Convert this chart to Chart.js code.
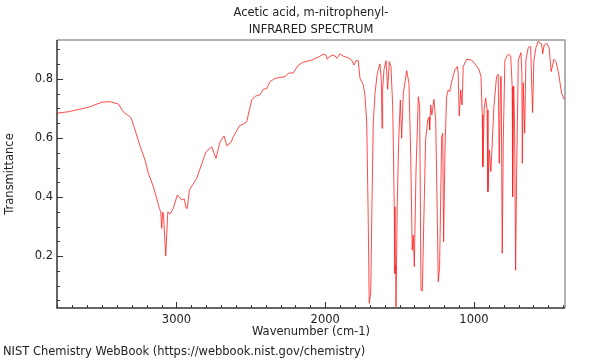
<!DOCTYPE html>
<html>
<head>
<meta charset="utf-8">
<title>Acetic acid, m-nitrophenyl- IR</title>
<script src="https://cdn.jsdelivr.net/npm/chart.js@4/dist/chart.umd.min.js"></script>
<style>
	body { margin: 0; background: #fff; }
	canvas { display: block; }
</style>
</head>
<body>
<canvas id="irSpectrum" width="600" height="360"></canvas>
<script>
	// values, high wavenumber first
	const wavenumbers = [
		3803, 3726, 3592, 3502, 3446, 3390, 3357, 3323, 3305, 3278,
		3245, 3211, 3189, 3155, 3130, 3115, 3106, 3099, 3093, 3088,
		3072, 3058, 3043, 3021, 2994, 2964, 2947, 2935, 2927, 2913,
		2864, 2801, 2763, 2734, 2707, 2680, 2662, 2633, 2618, 2577,
		2550, 2528, 2494, 2472, 2438, 2416, 2393, 2371, 2337, 2270,
		2248, 2214, 2181, 2147, 2091, 2046, 2013, 1995, 1986, 1975,
		1952, 1934, 1921, 1901, 1878, 1845, 1822, 1807, 1793, 1778,
		1766, 1744, 1733, 1721, 1712, 1704, 1694, 1686, 1677, 1665,
		1650, 1632, 1623, 1618, 1614, 1605, 1591, 1580, 1569, 1558,
		1546, 1536, 1531, 1526, 1524, 1516, 1506, 1495, 1486, 1475,
		1452, 1437, 1425, 1415, 1408, 1401, 1390, 1374, 1365, 1356,
		1347, 1338, 1325, 1311, 1302, 1298, 1291, 1283, 1269, 1257,
		1244, 1240, 1231, 1217, 1210, 1204, 1195, 1184, 1173, 1163,
		1150, 1128, 1112, 1106, 1099, 1089, 1080, 1072, 1049, 1016,
		993, 965, 953, 944, 940, 931, 921, 912, 906, 897,
		886, 866, 848, 837, 830, 821, 817, 810, 803, 792,
		770, 753, 743, 740, 733, 727, 720, 713, 702, 684,
		678, 675, 669, 659, 651, 635, 619, 606, 597, 583,
		568, 557, 545, 538, 528, 511, 494, 481, 462, 449,
		433, 411, 395, 388
	];
	const transmittance = [
		0.684, 0.689, 0.704, 0.721, 0.723, 0.715, 0.688, 0.676, 0.668, 0.627,
		0.573, 0.525, 0.480, 0.435, 0.390, 0.362, 0.350, 0.294, 0.349, 0.345,
		0.200, 0.350, 0.342, 0.362, 0.407, 0.390, 0.393, 0.362, 0.362, 0.424,
		0.463, 0.554, 0.570, 0.531, 0.587, 0.607, 0.574, 0.585, 0.604, 0.641,
		0.647, 0.655, 0.729, 0.741, 0.747, 0.765, 0.768, 0.791, 0.802, 0.808,
		0.819, 0.821, 0.847, 0.857, 0.864, 0.874, 0.884, 0.881, 0.867, 0.874,
		0.881, 0.878, 0.870, 0.885, 0.877, 0.872, 0.864, 0.847, 0.862, 0.862,
		0.802, 0.780, 0.746, 0.651, 0.367, 0.040, 0.074, 0.367, 0.650, 0.752,
		0.819, 0.851, 0.797, 0.633, 0.763, 0.831, 0.862, 0.765, 0.859, 0.842,
		0.706, 0.367, 0.141, 0.169, 0.028, 0.367, 0.593, 0.729, 0.599, 0.752,
		0.828, 0.785, 0.537, 0.220, 0.271, 0.164, 0.480, 0.740, 0.706, 0.085,
		0.082, 0.299, 0.593, 0.661, 0.670, 0.627, 0.712, 0.678, 0.731, 0.661,
		0.254, 0.113, 0.164, 0.604, 0.616, 0.248, 0.559, 0.740, 0.763, 0.757,
		0.791, 0.831, 0.842, 0.819, 0.675, 0.763, 0.712, 0.842, 0.867, 0.864,
		0.851, 0.831, 0.808, 0.678, 0.503, 0.701, 0.735, 0.695, 0.418, 0.559,
		0.486, 0.706, 0.808, 0.816, 0.514, 0.808, 0.808, 0.209, 0.593, 0.864,
		0.884, 0.878, 0.774, 0.401, 0.776, 0.650, 0.152, 0.480, 0.864, 0.889,
		0.819, 0.514, 0.787, 0.616, 0.864, 0.907, 0.910, 0.686, 0.864, 0.907,
		0.928, 0.921, 0.919, 0.885, 0.915, 0.921, 0.904, 0.825, 0.867, 0.859,
		0.825, 0.752, 0.732, 0.731
	];
	const xMajorTicks = [3000, 2000, 1000];
	const yMajorTicks = [0.2, 0.4, 0.6, 0.8];

	const titleLines = ['Acetic acid, m-nitrophenyl-', 'INFRARED SPECTRUM'];
	const footerText = 'NIST Chemistry WebBook (https://webbook.nist.gov/chemistry)';

	Chart.defaults.font.family = "'DejaVu Sans', sans-serif";
	Chart.defaults.font.size = 11.5;
	Chart.defaults.color = '#222';

	// frame + inward ticks like the NIST plots
	const frameTicks = {
		id: 'frameTicks',
		afterDraw(chart) {
			const ctx = chart.ctx;
			const a = chart.chartArea;
			const xs = chart.scales.x;
			const ys = chart.scales.y;
			ctx.save();
			ctx.lineWidth = 1.5;
			ctx.strokeStyle = '#999';
			ctx.beginPath();
			ctx.moveTo(a.left, a.top);
			ctx.lineTo(a.right, a.top);
			ctx.lineTo(a.right, a.bottom);
			ctx.stroke();

			ctx.strokeStyle = '#333';
			ctx.beginPath();
			ctx.moveTo(a.left, a.top);
			ctx.lineTo(a.left, a.bottom);
			ctx.lineTo(a.right, a.bottom);
			ctx.stroke();

			ctx.lineWidth = 1;
			ctx.beginPath();
			for (let v = Math.ceil(xs.min / 100) * 100; v <= xs.max; v += 100) {
				const px = Math.round(xs.getPixelForValue(v)) + 0.5;
				const len = xMajorTicks.includes(v) ? 6 : 3;
				ctx.moveTo(px, a.bottom);
				ctx.lineTo(px, a.bottom - len);
			}
			for (let k = Math.ceil(ys.min * 20); k <= ys.max * 20; k++) {
				const v = k / 20;
				const py = Math.round(ys.getPixelForValue(v)) + 0.5;
				const len = k % 4 === 0 ? 6 : 3;
				ctx.moveTo(a.left, py);
				ctx.lineTo(a.left + len, py);
			}
			ctx.stroke();

			ctx.fillStyle = '#222';
			ctx.font = "11.5px 'DejaVu Sans', sans-serif";
			ctx.textAlign = 'center';
			ctx.textBaseline = 'middle';
			const cx = (a.left + a.right) / 2;
			ctx.fillText(titleLines[0], cx, 13);
			ctx.fillText(titleLines[1], cx, 30);
			ctx.textAlign = 'left';
			ctx.fillText(footerText, 3, 352);
			ctx.restore();
		}
	};

	let spectrumData = wavenumbers.map((w, i) => ({ x: w, y: transmittance[i] }));

	new Chart(document.getElementById('irSpectrum').getContext('2d'), {
		type: 'line',
		data: {
			datasets: [{
				data: spectrumData,
				borderColor: 'rgba(255, 30, 30, 0.8)',
				borderWidth: 1,
				pointRadius: 0,
				tension: 0,
				fill: false
			}]
		},
		options: {
			responsive: false,
			animation: false,
			layout: { padding: { top: 40, right: 35, bottom: 20, left: 0 } },
			plugins: {
				legend: { display: false },
				tooltip: { enabled: false },
				title: { display: false }
			},
			scales: {
				x: {
					type: 'linear',
					reverse: true,
					min: 388,
					max: 3803,
					afterFit: s => { s.height = 32; },
					grid: { display: false, drawTicks: false },
					border: { display: false },
					ticks: {
						stepSize: 100,
						autoSkip: false,
						maxRotation: 0,
						padding: 5,
						callback: v => xMajorTicks.includes(v) ? String(v) : ''
					},
					title: {
						display: true,
						text: 'Wavenumber (cm-1)',
						padding: { top: 0, bottom: 1 }
					}
				},
				y: {
					min: 0.024,
					max: 0.932,
					afterFit: s => { s.width = 57; },
					grid: { display: false, drawTicks: false },
					border: { display: false },
					ticks: {
						stepSize: 0.05,
						autoSkip: false,
						padding: 4,
						callback: v => {
							const m = yMajorTicks.find(t => Math.abs(t - v) < 1e-6);
							return m !== undefined ? m.toFixed(1) : '';
						}
					},
					title: {
						display: true,
						text: 'Transmittance',
						padding: { top: 3, bottom: 0 }
					}
				}
			}
		},
		plugins: [frameTicks]
	});
</script>
</body>
</html>
